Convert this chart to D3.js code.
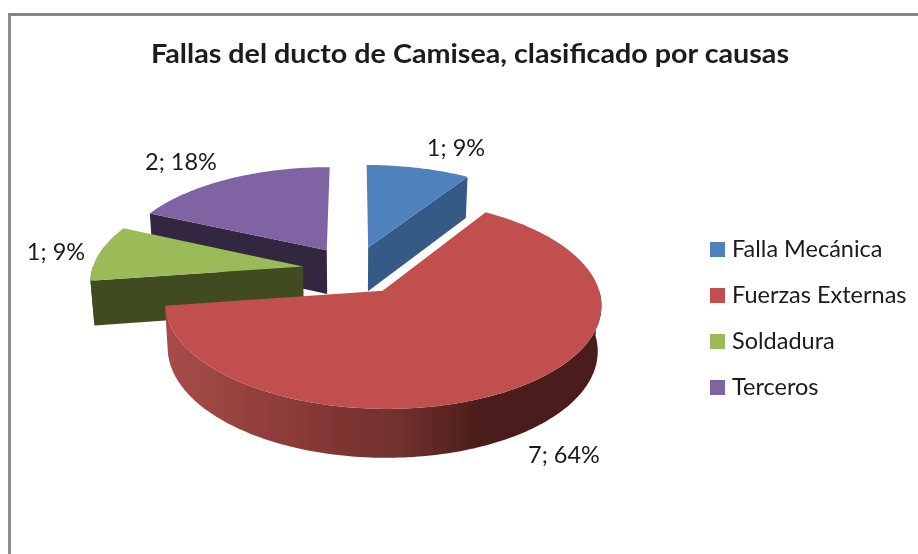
<!DOCTYPE html>
<html>
<head>
<meta charset="utf-8">
<script src="https://cdn.jsdelivr.net/npm/d3@7"></script>
<style>
    html, body { margin: 0; padding: 0; background: #fff; }
    svg { display: block; }
    text { font-family: Lato, "Open Sans", sans-serif; fill: #1a1a1a; }
</style>
</head>
<body>
<div id="chart"></div>
<script>
(function(d3) {

    "use strict";

    var chartTitle = "Fallas del ducto de Camisea, clasificado por causas";
    var categories = ["Falla Mecánica", "Fuerzas Externas", "Soldadura", "Terceros"];
    var values = [1, 7, 1, 2];
    var topColors = ["#4f81bd", "#c0504d", "#9bbb59", "#8064a2"];
    var sideColors = ["#365a85", "#4b1c1a", "#404b20", "#322641"];

    // label centres, the pie does not place them on its bisectors
    var labelX = [456, 564, 56, 181];
    var labelY = [156, 463, 260, 170];

    var width = 918, height = 554;

    // ground plane to screen, perspective is a divide on depth
    var centerX = 354, centerY = 270, perspective = 0.1235, depth = 44.4, explode = 0.245;
    var scaleX = d3.scaleLinear().domain([0, 1]).range([0, 211]);
    var scaleY = d3.scaleLinear().domain([0, 1]).range([0, 98]);

    var svg = d3.select("#chart").append("svg")
        .attr("width", width)
        .attr("height", height);

    var defs = svg.append("defs");

    var rimGradient = defs.append("linearGradient")
        .attr("id", "rimGradient")
        .attr("gradientUnits", "userSpaceOnUse")
        .attr("x1", 170).attr("x2", 600)
        .attr("y1", 0).attr("y2", 0);
    [[0, "#a64c49"], [0.3, "#8a3a37"], [0.55, "#6e2f2d"], [0.72, "#4b1d1b"], [1, "#4b1c1a"]].forEach(function(s) {
        rimGradient.append("stop").attr("offset", s[0]).attr("stop-color", s[1]);
    });

    defs.append("filter").attr("id", "soft")
        .append("feGaussianBlur").attr("stdDeviation", 0.5);

    // frame, open at right and bottom
    svg.append("path")
        .attr("d", d3.line()([[9.5, height], [9.5, 14.5], [width, 14.5]]))
        .attr("fill", "none")
        .attr("stroke", "#868686")
        .attr("stroke-width", 2.8);

    svg.append("text")
        .attr("x", 470)
        .attr("y", 63)
        .attr("text-anchor", "middle")
        .attr("font-size", 26.5)
        .attr("font-weight", 700)
        .attr("textLength", 638)
        .attr("lengthAdjust", "spacingAndGlyphs")
        .attr("filter", "url(#soft)")
        .text(chartTitle);

    var slices = d3.pie().sort(null)(values);
    var total = d3.sum(values);
    var line = d3.line();

    function project(x, y, lower) {
        var w = 1 - perspective * y;
        var px = centerX + scaleX(x) / w;
        var py = centerY + scaleY(y) / w;
        if (lower) {
            px = centerX + (px - centerX) * 0.985;
            py += depth / Math.pow(w, 0.6);
        }
        return [px, py];
    }

    function rimPoint(slice, angle, lower) {
        var mid = (slice.startAngle + slice.endAngle) / 2;
        return project(
            explode * Math.sin(mid) + Math.sin(angle),
            -explode * Math.cos(mid) - Math.cos(angle),
            lower);
    }

    function apexPoint(slice, lower) {
        var mid = (slice.startAngle + slice.endAngle) / 2;
        return project(explode * Math.sin(mid), -explode * Math.cos(mid), lower);
    }

    function arcAngles(start, end) {
        var steps = Math.max(2, Math.ceil((end - start) / 0.02));
        return d3.range(steps + 1).map(function(i) {
            return start + (end - start) * i / steps;
        });
    }

    function radialFace(slice, angle) {
        return [apexPoint(slice), rimPoint(slice, angle), rimPoint(slice, angle, true), apexPoint(slice, true)];
    }

    // back to front: Terceros, Falla Mecánica, Soldadura, Fuerzas Externas
    var paintOrder = [3, 0, 2, 1];
    var pie = svg.append("g").attr("filter", "url(#soft)");

    paintOrder.forEach(function(i) {
        var slice = slices[i];
        var group = pie.append("g").attr("class", "slice");
        var side = sideColors[i];

        // a radial wall shows only if it turns toward the viewer
        if (Math.sin(slice.startAngle) < -0.001) {
            group.append("path").attr("d", line(radialFace(slice, slice.startAngle)) + "Z").attr("fill", side);
        }
        if (Math.sin(slice.endAngle) > 0.001) {
            group.append("path").attr("d", line(radialFace(slice, slice.endAngle)) + "Z").attr("fill", side);
        }

        // outer wall, the front half of the circle only
        var rimStart = Math.max(slice.startAngle, Math.PI / 2);
        var rimEnd = Math.min(slice.endAngle, 3 * Math.PI / 2);
        if (rimEnd > rimStart) {
            var angles = arcAngles(rimStart, rimEnd);
            var upper = angles.map(function(a) { return rimPoint(slice, a); });
            var lower = angles.map(function(a) { return rimPoint(slice, a, true); }).reverse();
            group.append("path")
                .attr("d", line(upper.concat(lower)) + "Z")
                .attr("fill", i === 1 ? "url(#rimGradient)" : side);
        }

        var outline = [apexPoint(slice)].concat(arcAngles(slice.startAngle, slice.endAngle).map(function(a) {
            return rimPoint(slice, a);
        }));
        group.append("path")
            .attr("d", line(outline) + "Z")
            .attr("fill", topColors[i]);
    });

    var labels = svg.append("g").attr("filter", "url(#soft)");
    slices.forEach(function(slice, i) {
        labels.append("text")
            .attr("x", labelX[i])
            .attr("y", labelY[i])
            .attr("text-anchor", "middle")
            .attr("font-size", 23.5)
            .text(slice.value + "; " + Math.round(slice.value / total * 100) + "%");
    });

    var legendY = d3.scalePoint().domain(categories).range([249.5, 387.5]);
    var legend = svg.append("g").attr("filter", "url(#soft)")
        .selectAll("g")
        .data(categories)
        .enter()
        .append("g")
        .attr("transform", function(d) { return "translate(710," + legendY(d) + ")"; });

    legend.append("rect")
        .attr("x", 0)
        .attr("y", -7.5)
        .attr("width", 15)
        .attr("height", 15)
        .attr("fill", function(d, i) { return topColors[i]; });

    legend.append("text")
        .attr("x", 22)
        .attr("y", 7.5)
        .attr("font-size", 23.5)
        .text(function(d) { return d; });

})(d3);
</script>
</body>
</html>
